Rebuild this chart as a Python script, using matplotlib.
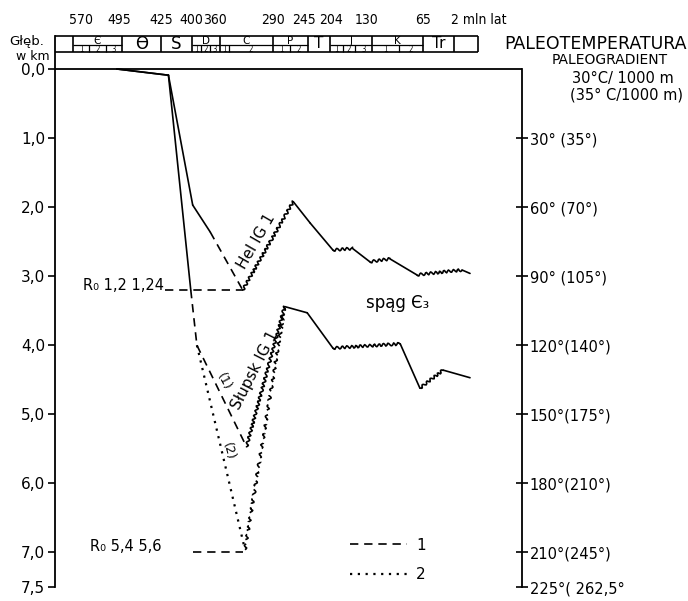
import numpy as np
import matplotlib
matplotlib.use("Agg")
import matplotlib.pyplot as plt
from matplotlib.lines import Line2D

plt.rcParams['font.family'] = ['DejaVu Sans']

# The time axis of the original drawing is not linear: ages (mln lat) of the
# period boundaries and where they sit along the axis (px of a 688 px figure)
SCALE_AGE = [600, 570, 495, 425, 400, 360, 290, 245, 204, 130, 65, 2, -6.5]
SCALE_POS = [55, 73, 122, 161, 192, 220, 273, 308, 330, 372, 423, 454, 522]

TOP_AGES = [570, 495, 425, 400, 360, 290, 245, 204, 130, 65]

# stratigraphic header
PERIODS = ['', 'Є', 'Ɵ', 'S', 'D', 'C', 'P', 'T', 'J', 'K', 'Tr', '']
PERIOD_START = [600, 570, 495, 425, 400, 360, 290, 245, 204, 130, 65, 2]
PERIOD_END = [570, 495, 425, 400, 360, 290, 245, 204, 130, 65, 2, -1]
PERIOD_SUBS = [[], [545, 520], [], [], [387, 374], [348], [268], [], [181, 160], [96], [], []]

# burial curves (age in mln lat, depth in km)
HEL_AGE = [503, 419, 399, 374, 330, 264, 241, 199, 164, 134, 107, 73, 1, 0]
HEL_DEPTH = [0, 0.09, 1.97, 2.36, 3.2, 1.92, 2.23, 2.62, 2.6, 2.79, 2.75, 2.98, 2.91, 2.96]

STUPSK_AGE = [503, 419, 401, 393, 325, 275, 246, 199, 94, 69, 24, 0]
STUPSK_DEPTH = [0, 0.09, 3.2, 4.0, 5.47, 3.44, 3.53, 4.04, 3.98, 4.62, 4.36, 4.47]

# variant (2) of the Slupsk curve
STUPSK2_AGE = [393, 327, 275]
STUPSK2_DEPTH = [4.0, 6.96, 3.44]

# vitrinite reflectance levels
RO_UPPER_AGE = [422, 330]
RO_UPPER_DEPTH = 3.2
RO_LOWER_AGE = [399, 329]
RO_LOWER_DEPTH = 7.0

DEPTH_TICKS = [0, 1, 2, 3, 4, 5, 6, 7, 7.5]
DEPTH_LABELS = ['0,0', '1,0', '2,0', '3,0', '4,0', '5,0', '6,0', '7,0', '7,5']
TEMP_TICKS = [1, 2, 3, 4, 5, 6, 7, 7.5]
TEMP_LABELS = ['30° (35°)', '60° (70°)', '90° (105°)', '120°(140°)', '150°(175°)',
               '180°(210°)', '210°(245°)', '225°( 262,5°']
LEGEND_LABELS = ['1', '2']

_age = np.array(SCALE_AGE, dtype=float)
_pos = np.array(SCALE_POS, dtype=float)


# increasing in age, used with an inverted x range
def fwd(a):
    return -np.interp(-np.asarray(a, dtype=float), -_age, _pos)


def inv(p):
    return -np.interp(-np.asarray(p, dtype=float), _pos, -_age)


W, H = 688, 601
fig = plt.figure(figsize=(W / 100, H / 100), dpi=100, facecolor='white')
top_px, bot_px = 36, 587
ax = fig.add_axes([55 / W, 1 - bot_px / H, (522 - 55) / W, (bot_px - top_px) / H])
ax.set_xscale('function', functions=(fwd, inv))
ax.set_xlim(600, -6.5)
d_top = (top_px - 69) / 69.1
ax.set_ylim(7.5, d_top)

LW = 1.2
STYLE = {
    'solid': dict(linestyle='-'),
    'dashed': dict(linestyle=(0, (5, 3.5))),
    'dotted': dict(linestyle=(0, (1, 2.5)), lw=1.6),
    'wavy': dict(linestyle='-'),
    'wavy_dashed': dict(linestyle=(0, (5, 3.5))),
}


def draw_path(ages, depths, kinds):
    for i, kind in enumerate(kinds):
        kw = dict(color='black', lw=LW, solid_capstyle='round')
        kw.update(STYLE[kind])
        ln, = ax.plot(ages[i:i + 2], depths[i:i + 2], **kw)
        if kind.startswith('wavy'):
            ln.set_sketch_params(scale=1.4, length=5, randomness=1.5)


draw_path(HEL_AGE, HEL_DEPTH,
          ['solid', 'solid', 'solid', 'dashed', 'wavy', 'solid', 'solid',
           'wavy', 'solid', 'wavy', 'solid', 'wavy', 'solid'])
draw_path(STUPSK_AGE, STUPSK_DEPTH,
          ['solid', 'solid', 'dashed', 'dashed', 'wavy', 'solid', 'solid',
           'wavy', 'solid', 'wavy', 'solid'])
draw_path(STUPSK2_AGE, STUPSK2_DEPTH, ['dotted', 'wavy_dashed'])

ax.plot(RO_UPPER_AGE, [RO_UPPER_DEPTH] * 2, color='black', lw=LW, **STYLE['dashed'])
ax.plot(RO_LOWER_AGE, [RO_LOWER_DEPTH] * 2, color='black', lw=LW, **STYLE['dashed'])

# top frame line at 0 km
ax.axhline(0, color='black', lw=1.3)

# stratigraphic header box
h_top, h_mid, h_bot = d_top, (45.5 - 69) / 69.1, (52 - 69) / 69.1
ax.hlines([h_top, h_bot], 600, PERIOD_END[-1], color='black', lw=1.2, clip_on=False)
for name, a0, a1, subs in zip(PERIODS, PERIOD_START, PERIOD_END, PERIOD_SUBS):
    ax.vlines(a1, h_top, h_bot, color='black', lw=1.2, clip_on=False)
    xm = inv((fwd(a0) + fwd(a1)) / 2)
    if subs:
        ax.hlines(h_mid, a0, a1, color='black', lw=0.9)
        ax.vlines(subs, h_mid, h_bot, color='black', lw=0.9)
        edges = [a0] + subs + [a1]
        for k in range(len(edges) - 1):
            xs = inv((fwd(edges[k]) + fwd(edges[k + 1])) / 2)
            ax.text(xs, (h_mid + h_bot) / 2 + 0.005, str(k + 1), ha='center', va='center',
                    fontsize=5.5, fontstretch='condensed')
        ax.text(xm, (h_top + h_mid) / 2, name, ha='center', va='center',
                fontsize=7.5)
    elif name:
        ax.text(xm, (h_top + h_bot) / 2, name, ha='center', va='center',
                fontsize=12 if name in ('S', 'Ɵ') else 11)

# ages along the top (the hand lettering sits a little off some boundaries)
y_ages = (20 - 69) / 69.1
nudge_px = [8, -3, 0, -1, -5, 0, -4, 1, -5, 0]
for a, dx in zip(TOP_AGES, nudge_px):
    ax.annotate(str(a), xy=(a, y_ages), xytext=(dx * 0.72, 0), textcoords='offset points',
                ha='center', va='center', fontsize=10, fontstretch='condensed',
                annotation_clip=False)
ax.annotate('2 mln lat', xy=(2, y_ages), xytext=(-2, 0), textcoords='offset points',
            ha='left', va='center', fontsize=10, fontstretch='condensed',
            annotation_clip=False)

# labels on the plot
ax.text(312, 2.5, 'Hel IG 1', rotation=60, ha='center', va='center',
        rotation_mode='anchor', fontsize=11)
ax.text(314, 4.36, 'Słupsk IG 1', rotation=63, ha='center', va='center',
        rotation_mode='anchor', fontsize=11)
ax.text(355, 4.53, '(1)', rotation=-62, ha='center', va='center',
        rotation_mode='anchor', fontsize=9)
ax.text(349, 5.54, '(2)', rotation=-75, ha='center', va='center',
        rotation_mode='anchor', fontsize=9)
ax.text(97, 3.39, 'spąg Є₃', ha='center', va='center', fontsize=12)
ax.text(555, 3.13, 'R₀ 1,2 1,24', ha='left', va='center', fontsize=10.5)
ax.text(544, 6.92, 'R₀ 5,4 5,6', ha='left', va='center', fontsize=10.5)

handles = [Line2D([], [], color='black', lw=LW, **STYLE['dashed']),
           Line2D([], [], color='black', **STYLE['dotted'])]
ax.legend(handles, LEGEND_LABELS, loc='center left', bbox_to_anchor=(0.632, 0.049),
          frameon=False, fontsize=11, handlelength=3.7, handletextpad=0.6,
          labelspacing=0.95, borderpad=0, borderaxespad=0)

# left depth axis
ax.set_xticks([])
ax.set_yticks(DEPTH_TICKS)
ax.set_yticklabels(DEPTH_LABELS)
ax.tick_params(axis='y', direction='out', length=5, width=1.2, labelsize=11, pad=2)
for s in ('top', 'bottom', 'right'):
    ax.spines[s].set_visible(False)
ax.spines['left'].set_linewidth(1.3)

# right paleotemperature axis
ax2 = ax.twinx()
ax2.set_ylim(ax.get_ylim())
ax2.set_yticks(TEMP_TICKS)
ax2.set_yticklabels(TEMP_LABELS)
ax2.tick_params(axis='y', direction='inout', length=9, width=1.2, labelsize=10.5, pad=1)
for s in ('top', 'bottom', 'left'):
    ax2.spines[s].set_visible(False)
ax2.spines['right'].set_bounds(0, 7.5)
ax2.spines['right'].set_linewidth(1.3)

# header texts
fig.text(9 / W, 1 - 42 / H, 'Głęb.', ha='left', va='center', fontsize=9.5)
fig.text(16 / W, 1 - 56 / H, 'w km', ha='left', va='center', fontsize=9)
fig.text(504 / W, 1 - 44 / H, 'PALEOTEMPERATURA', ha='left', va='center', fontsize=12.5)
fig.text(610 / W, 1 - 60 / H, 'PALEOGRADIENT', ha='center', va='center', fontsize=10)
fig.text(623 / W, 1 - 79 / H, '30°C/ 1000 m', ha='center', va='center', fontsize=10.5)
fig.text(626 / W, 1 - 95 / H, '(35° C/1000 m)', ha='center', va='center', fontsize=10.5)

fig.savefig('out.png', dpi=100, facecolor='white')
